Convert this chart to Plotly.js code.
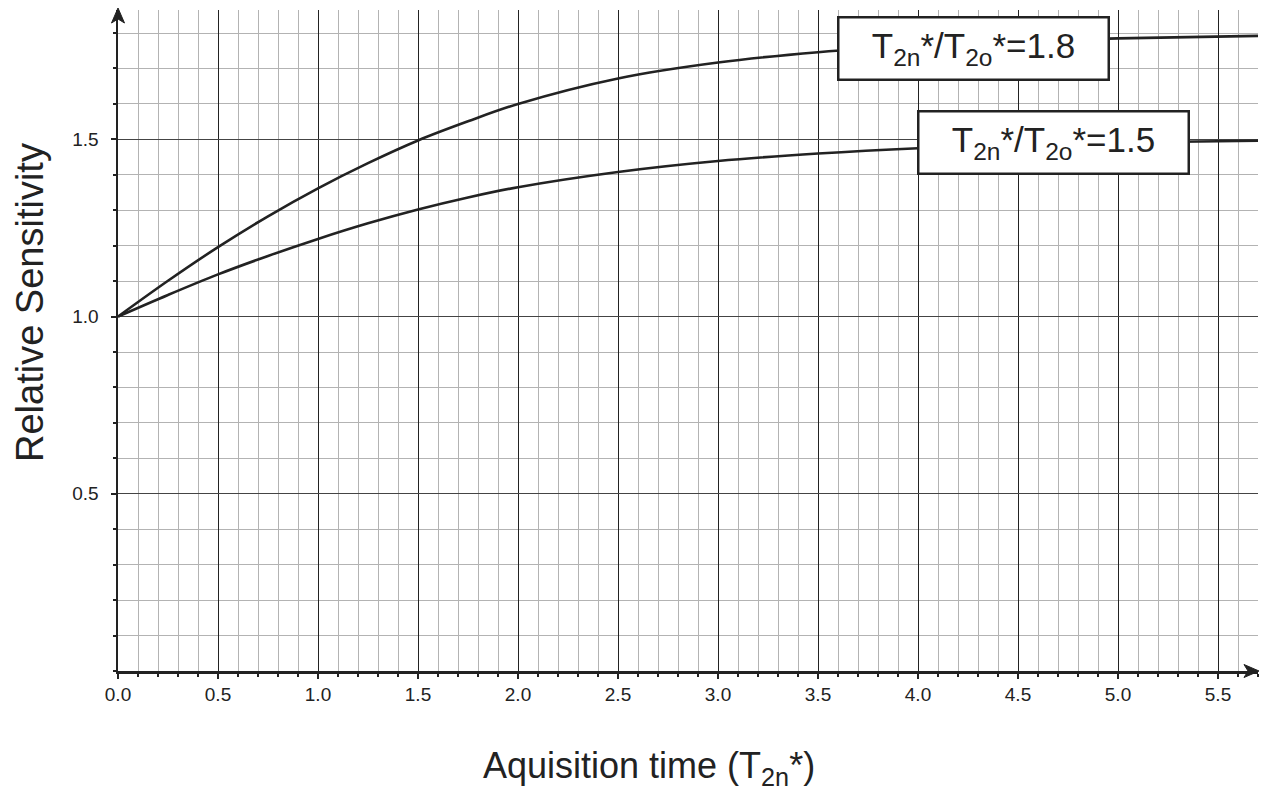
<!DOCTYPE html>
<html>
<head>
<meta charset="utf-8">
<script src="https://cdn.plot.ly/plotly-3.0.1.min.js"></script>
<style>html,body{margin:0;padding:0;background:#fff;}#chart{width:1265px;height:798px;}</style>
</head>
<body>
<div id="chart"></div>
<script>
// Acquisition time (in units of T2n*)
const timeValues = [0, 0.25, 0.5, 0.75, 1.0, 1.25, 1.5, 1.75, 2.0, 2.5, 3.0, 3.5, 4.0, 4.5, 5.0, 5.7];
// Relative sensitivity, T2n*/T2o* = 1.8
const sensitivity18 = [1.0, 1.101, 1.196, 1.283, 1.362, 1.433, 1.497, 1.551, 1.600, 1.672, 1.717, 1.746, 1.765, 1.777, 1.785, 1.792];
// Relative sensitivity, T2n*/T2o* = 1.5
const sensitivity15 = [1.0, 1.061, 1.119, 1.171, 1.219, 1.263, 1.302, 1.336, 1.365, 1.408, 1.439, 1.460, 1.475, 1.485, 1.491, 1.496];
const xTickVals = [0, 0.5, 1.0, 1.5, 2.0, 2.5, 3.0, 3.5, 4.0, 4.5, 5.0, 5.5];
const xTickText = ["0.0", "0.5", "1.0", "1.5", "2.0", "2.5", "3.0", "3.5", "4.0", "4.5", "5.0", "5.5"];
const yTickVals = [0.5, 1.0, 1.5];
const yTickText = ["0.5", "1.0", "1.5"];
const curveLabels = ["T<sub>2n</sub>*/T<sub>2o</sub>*=1.8", "T<sub>2n</sub>*/T<sub>2o</sub>*=1.5"];
const xTitle = "Aquisition time (T<sub>2n</sub>*)";
const yTitle = "Relative Sensitivity";

const FONT = "Liberation Sans, Arial, Helvetica, sans-serif";
const X_MAX = 5.7, Y_MAX = 1.865;

const traces = [
  {x: timeValues, y: sensitivity18, mode: "lines", line: {color: "#222", width: 2.6, shape: "spline"}, name: "1.8", hoverinfo: "x+y"},
  {x: timeValues, y: sensitivity15, mode: "lines", line: {color: "#222", width: 2.6, shape: "spline"}, name: "1.5", hoverinfo: "x+y"}
];

const layout = {
  width: 1265, height: 798,
  margin: {l: 118, r: 7, t: 10, b: 127},
  paper_bgcolor: "#fff", plot_bgcolor: "#fff",
  showlegend: false,
  font: {family: FONT, color: "#222"},
  xaxis: {
    range: [0, X_MAX], tickvals: xTickVals, ticktext: xTickText,
    showgrid: true, gridcolor: "#222", gridwidth: 1,
    zeroline: false, showline: true, linecolor: "#222", linewidth: 2.5,
    ticks: "outside", ticklen: 5, tickwidth: 2, tickcolor: "#222",
    tickfont: {size: 19, family: FONT, color: "#222"},
    minor: {dtick: 0.1, tick0: 0, showgrid: true, gridcolor: "#b3b3b3", gridwidth: 1, ticks: "outside", ticklen: 3, tickwidth: 2, tickcolor: "#222"},
    fixedrange: true
  },
  yaxis: {
    range: [0, Y_MAX], tickvals: yTickVals, ticktext: yTickText,
    showgrid: true, gridcolor: "#444", gridwidth: 1,
    zeroline: false, showline: true, linecolor: "#222", linewidth: 2.5,
    ticks: "outside", ticklen: 5, tickwidth: 2, tickcolor: "#222",
    ticklabelstandoff: 8,
    tickfont: {size: 19, family: FONT, color: "#222"},
    minor: {dtick: 0.1, tick0: 0, showgrid: true, gridcolor: "#b3b3b3", gridwidth: 1, ticks: "outside", ticklen: 3, tickwidth: 2, tickcolor: "#222"},
    fixedrange: true
  },
  shapes: [
    // axis arrowheads (pixel-sized, anchored at the axis ends, paper refs so they are not clipped)
    {type: "path", xref: "paper", yref: "paper", xsizemode: "pixel", ysizemode: "pixel", xanchor: 0, yanchor: 1,
     path: "M0,2 L-6.5,-13 L0,-9 L6.5,-13 Z", fillcolor: "#222", line: {color: "#222", width: 1}, layer: "above"},
    {type: "path", xref: "paper", yref: "paper", xsizemode: "pixel", ysizemode: "pixel", xanchor: 1, yanchor: 0,
     path: "M1,0 L-14,6.5 L-10,0 L-14,-6.5 Z", fillcolor: "#222", line: {color: "#222", width: 1}, layer: "above"}
  ],
  annotations: [
    {xref: "x", yref: "y", x: 4.2775, y: 1.757, text: curveLabels[0], showarrow: false,
     font: {size: 35, family: FONT, color: "#222"}, bgcolor: "#fff", bordercolor: "#222", borderwidth: 2.5,
     width: 266, height: 58, xanchor: "center", yanchor: "middle", align: "center"},
    {xref: "x", yref: "y", x: 4.6775, y: 1.4907, text: curveLabels[1], showarrow: false,
     font: {size: 35, family: FONT, color: "#222"}, bgcolor: "#fff", bordercolor: "#222", borderwidth: 2.5,
     width: 266, height: 58, xanchor: "center", yanchor: "middle", align: "center"},
    {xref: "paper", yref: "paper", x: (649 - 118) / 1140, y: (671 - 768) / 661, text: xTitle, showarrow: false,
     font: {size: 36, family: FONT, color: "#222"}, xanchor: "center", yanchor: "middle"},
    {xref: "paper", yref: "paper", x: (30 - 118) / 1140, y: (671 - 303) / 661, text: yTitle, showarrow: false, textangle: -90,
     font: {size: 38, family: FONT, color: "#222"}, xanchor: "center", yanchor: "middle"}
  ]
};

Plotly.newPlot("chart", traces, layout, {displayModeBar: false, staticPlot: true});
</script>
</body>
</html>
